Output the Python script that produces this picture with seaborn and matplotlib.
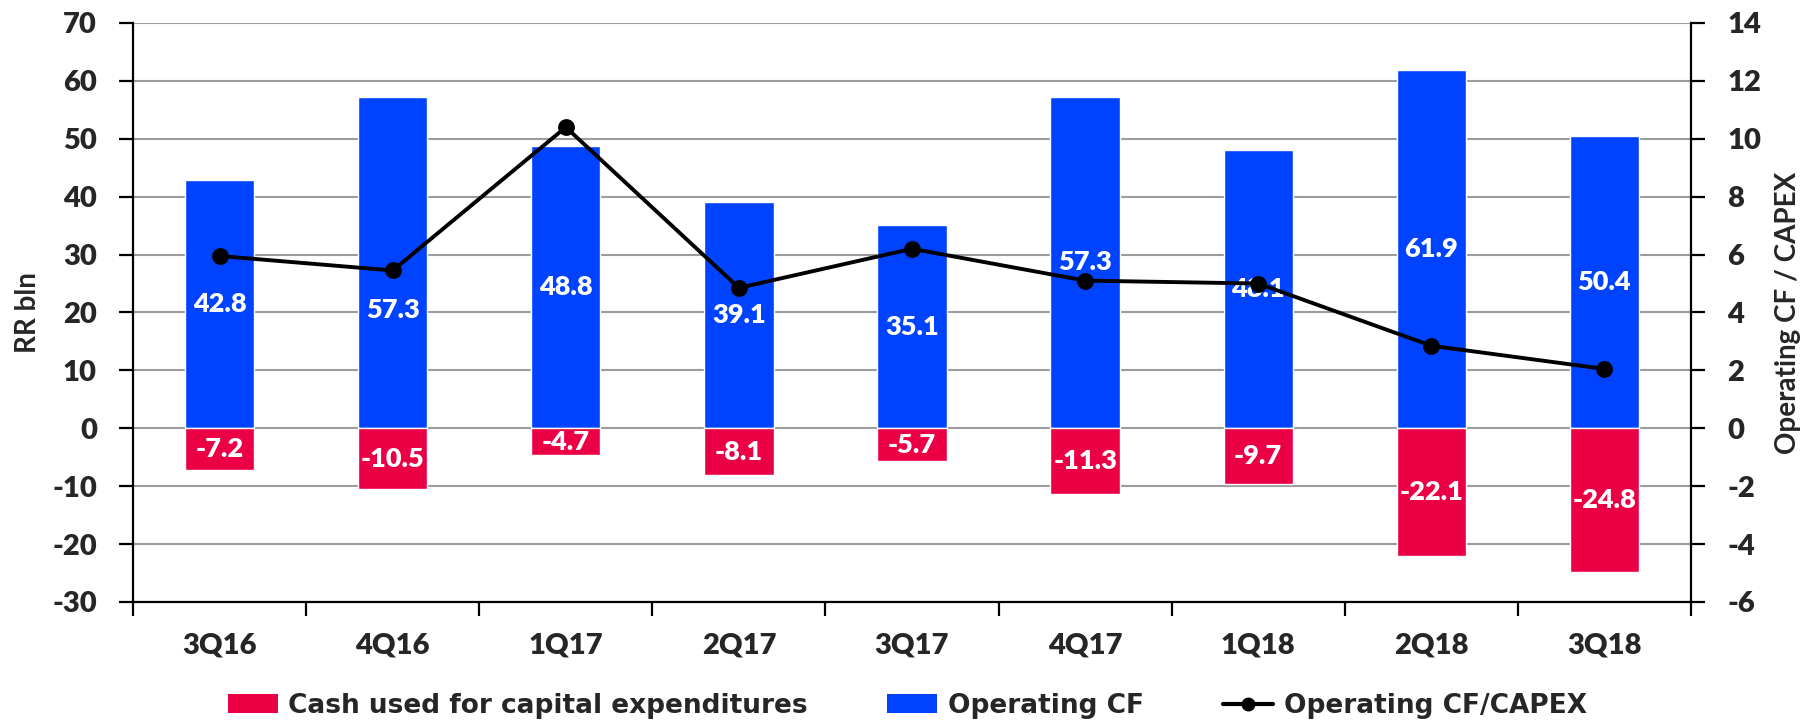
import numpy as np
import pandas as pd
import matplotlib
matplotlib.use("Agg")
import matplotlib.pyplot as plt
import seaborn as sns
from matplotlib.patches import Patch
from matplotlib.lines import Line2D
from matplotlib.ticker import FixedLocator

# ---- data ----
quarters = ["3Q16", "4Q16", "1Q17", "2Q17", "3Q17", "4Q17", "1Q18", "2Q18", "3Q18"]
operating_cf = [42.8, 57.3, 48.8, 39.1, 35.1, 57.3, 48.1, 61.9, 50.4]
capex = [-7.2, -10.5, -4.7, -8.1, -5.7, -11.3, -9.7, -22.1, -24.8]
ocf_capex_ratio = [5.95, 5.45, 10.4, 4.85, 6.2, 5.1, 5.0, 2.85, 2.05]

left_ticks = list(range(-30, 71, 10))
right_ticks = list(range(-6, 15, 2))

# label placement (data units): centre of the bar, except where moved off the line
ocf_label_override = {1: 20.5}

BLUE = "#0043FF"
RED = "#EB0046"
GRID = "#9c9c9c"

sns.set_theme(style="ticks")
plt.rcParams['font.family'] = ['Lato', 'DejaVu Sans']
plt.rcParams['axes.unicode_minus'] = False

fig, ax = plt.subplots(figsize=(18.18, 7.27), dpi=100)
fig.subplots_adjust(left=0.0732, right=0.9301, top=0.9684, bottom=0.172)

df = pd.DataFrame({"quarter": quarters, "ocf": operating_cf, "capex": capex})
sns.barplot(data=df, x="quarter", y="ocf", color=BLUE, width=0.4, ax=ax,
            saturation=1, errorbar=None, zorder=2)
sns.barplot(data=df, x="quarter", y="capex", color=RED, width=0.4, ax=ax,
            saturation=1, errorbar=None, zorder=2)

lab_kw = dict(color="white", fontsize=19.5, fontweight="heavy", ha="center",
              va="center", zorder=3)
for i, (bar, v) in enumerate(zip(ax.containers[0], operating_cf)):
    cx = bar.get_x() + bar.get_width() / 2
    ax.text(cx, ocf_label_override.get(i, v / 2), f"{v:.1f}", **lab_kw)
for i, (bar, v) in enumerate(zip(ax.containers[1], capex)):
    cx = bar.get_x() + bar.get_width() / 2
    ax.text(cx, v / 2, f"{v:.1f}", **lab_kw)

ax.set_ylim(-30, 70)
ax.set_yticks(left_ticks)
ax.yaxis.grid(True, color=GRID, lw=1.5)
ax.set_axisbelow(True)
ax.set_xlabel("")
ax.set_ylabel("RR bln", fontsize=20, fontweight="bold")
ax.yaxis.set_label_coords(-0.059, 0.5)

for s in ["top", "right"]:
    ax.spines[s].set_visible(False)
for s in ["left", "bottom"]:
    ax.spines[s].set_color("black")
    ax.spines[s].set_linewidth(1.6)

ax2 = ax.twinx()
sns.pointplot(x=quarters, y=ocf_capex_ratio, ax=ax2, color="black", markers="o",
              errorbar=None, markersize=10, linewidth=2.8)
ax2.set_ylim(-6, 14)
ax2.set_yticks(right_ticks)
ax2.set_ylabel("Operating CF / CAPEX", fontsize=20, fontweight="bold")
ax2.yaxis.set_label_coords(1.054, 0.5)
for s in ["top", "left", "bottom"]:
    ax2.spines[s].set_visible(False)
ax2.spines["right"].set_color("black")
ax2.spines["right"].set_linewidth(1.6)

# x axis: labels at centres, tick marks at category boundaries
ax.set_xlim(-0.5, len(quarters) - 0.5)
ax.set_xticks(range(len(quarters)))
ax.set_xticklabels(quarters)
ax.xaxis.set_minor_locator(FixedLocator(np.arange(-0.5, len(quarters), 1.0)))
ax.tick_params(axis="x", which="major", length=0, pad=22, labelsize=21)
ax.tick_params(axis="x", which="minor", length=10, width=1.6, color="black", direction="out")
ax.tick_params(axis="y", which="major", length=10, width=1.6, color="black",
               direction="out", pad=16, labelsize=21)
ax2.tick_params(axis="y", which="major", length=10, width=1.6, color="black",
                direction="out", pad=16, labelsize=21, right=True)
for lab in ax.get_xticklabels() + ax.get_yticklabels() + ax2.get_yticklabels():
    lab.set_fontweight("heavy")
ax2.set_xlim(-0.5, len(quarters) - 0.5)

handles = [
    Patch(facecolor=RED, edgecolor="none", label="Cash used for capital expenditures"),
    Patch(facecolor=BLUE, edgecolor="none", label="Operating CF"),
    Line2D([0], [0], color="black", lw=3, marker="o", markersize=9, label="Operating CF/CAPEX"),
]
leg = fig.legend(handles=handles, loc="center", bbox_to_anchor=(0.499, 0.029), ncol=3,
                 frameon=False, prop={"family": "DejaVu Sans", "weight": "bold", "size": 19},
                 handlelength=1.9, handleheight=0.7, handletextpad=0.4, columnspacing=3.0)

fig.savefig("out.png", dpi=100)
